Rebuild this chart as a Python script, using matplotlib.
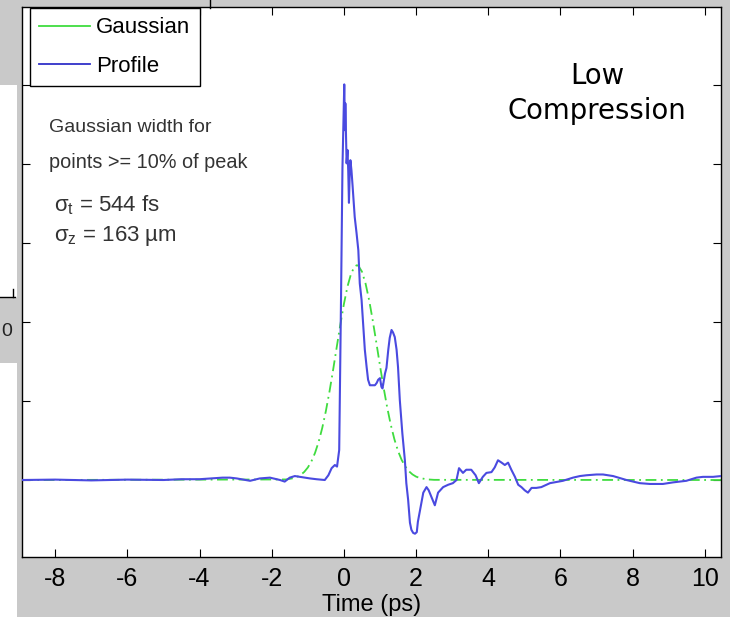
import matplotlib
matplotlib.use("Agg")
import matplotlib.pyplot as plt
from matplotlib.lines import Line2D
from matplotlib.patches import Rectangle

# ---------------- data ----------------
profile_t = [-8.92, -8.0, -7.0, -6.0, -5.0, -4.5, -4.0, -3.36, -3.16, -2.97, -2.6, -2.33,
             -2.05, -1.77, -1.64, -1.50, -1.36, -1.22, -0.94, -0.76, -0.53, -0.43, -0.34,
             -0.25, -0.19, -0.13, -0.08, -0.04, -0.01, 0.01, 0.03, 0.04, 0.06, 0.075, 0.10,
             0.12, 0.14, 0.16, 0.18, 0.21, 0.24, 0.30, 0.35, 0.40, 0.42, 0.44, 0.49, 0.52,
             0.55, 0.58, 0.63, 0.67, 0.72, 0.78, 0.86, 0.91, 0.95, 1.00, 1.04, 1.07, 1.14,
             1.18, 1.23, 1.27, 1.32, 1.36, 1.41, 1.46, 1.50, 1.55, 1.62, 1.69, 1.73, 1.78,
             1.83, 1.87, 1.92, 1.97, 2.02, 2.05, 2.11, 2.20, 2.29, 2.35, 2.43, 2.52, 2.61,
             2.75, 2.89, 3.02, 3.12, 3.19, 3.30, 3.39, 3.53, 3.65, 3.74, 3.85, 3.95, 4.09,
             4.18, 4.27, 4.37, 4.46, 4.55, 4.64, 4.74, 4.83, 4.92, 5.01, 5.10, 5.20, 5.33,
             5.47, 5.61, 5.71, 6.07, 6.35, 6.54, 6.72, 7.00, 7.18, 7.46, 7.83, 8.20, 8.48,
             8.84, 9.12, 9.49, 9.77, 9.95, 10.23, 10.45]
profile_v = [0.0, 0.005, -0.005, 0.005, 0.0, 0.01, 0.01, 0.03, 0.03, 0.02, -0.01, 0.02,
             0.03, 0.0, -0.02, 0.03, 0.05, 0.04, 0.02, 0.01, 0.0, 0.06, 0.15,
             0.19, 0.17, 0.38, 2.28, 3.95, 4.56, 5.01, 4.43, 4.77, 4.30, 4.01, 4.18,
             3.92, 3.51, 3.86, 4.05, 3.92, 3.73, 3.33, 3.13, 2.91, 2.70, 2.49, 2.28, 2.07,
             1.86, 1.65, 1.43, 1.27, 1.20, 1.20, 1.20, 1.23, 1.27, 1.29, 1.18, 1.16, 1.35,
             1.42, 1.65, 1.80, 1.90, 1.87, 1.81, 1.65, 1.43, 1.01, 0.59, 0.25, -0.04, -0.25,
             -0.54, -0.63, -0.67, -0.68, -0.66, -0.53, -0.38, -0.16, -0.09, -0.13, -0.22, -0.32, -0.16,
             -0.09, -0.06, -0.04, 0.0, 0.15, 0.09, 0.13, 0.13, 0.06, -0.04, 0.04, 0.09, 0.10,
             0.16, 0.25, 0.22, 0.19, 0.22, 0.13, 0.04, -0.06, -0.09, -0.13, -0.16, -0.10, -0.10,
             -0.09, -0.06, -0.04, -0.01, 0.03, 0.05, 0.06, 0.07, 0.07, 0.05, 0.0, -0.04, -0.05,
             -0.05, -0.03, -0.01, 0.03, 0.04, 0.04, 0.05]

gauss_t = [-8.92, -1.6, -1.4, -1.3, -1.2, -1.1, -1.0, -0.9, -0.8, -0.7, -0.6, -0.5, -0.4,
           -0.3, -0.2, -0.1, 0.0, 0.1, 0.2, 0.3, 0.36, 0.4, 0.5, 0.6, 0.7, 0.8, 0.9, 1.0,
           1.1, 1.2, 1.3, 1.4, 1.5, 1.6, 1.7, 1.8, 1.9, 2.0, 2.1, 2.3, 2.5, 10.45]
gauss_v = [0.0, 0.007, 0.023, 0.039, 0.064, 0.102, 0.158, 0.236, 0.343, 0.483, 0.659, 0.872, 1.118,
           1.391, 1.679, 1.964, 2.228, 2.451, 2.615, 2.705, 2.72, 2.713, 2.639, 2.489, 2.277, 2.019, 1.737, 1.448,
           1.171, 0.918, 0.698, 0.515, 0.368, 0.255, 0.172, 0.112, 0.071, 0.043, 0.026, 0.008, 0.002, 0.0]

x_ticks = [-8, -6, -4, -2, 0, 2, 4, 6, 8, 10]
y_ticks = [0, 1, 2, 3, 4, 5]
legend_labels = ["Gaussian", "Profile"]
note_lines = ["Gaussian width for", "points >= 10% of peak"]
sigma_lines = [r"$\mathregular{\sigma_t}$ = 544 fs", r"$\mathregular{\sigma_z}$ = 163 µm"]
title_lines = ["Low", "Compression"]

# ---------------- figure ----------------
W, H = 730, 617
plt.rcParams['mathtext.fontset'] = 'custom'
plt.rcParams['mathtext.rm'] = 'Liberation Sans'
fig = plt.figure(figsize=(W / 100, H / 100), dpi=100, facecolor='#c9c9c9')

def fx(px):
    return px / W

def fy(py):
    return 1 - py / H

# stray pieces of neighbouring panels
fig.patches.append(Rectangle((0, 0), fx(17), fy(85), transform=fig.transFigure,
                             facecolor='white', edgecolor='none', zorder=0))
fig.patches.append(Rectangle((0, fy(363)), fx(20), fy(298) - fy(363), transform=fig.transFigure,
                             facecolor='#c9c9c9', edgecolor='none', zorder=0))
fig.lines.append(Line2D([0, fx(15)], [fy(297), fy(297)], transform=fig.transFigure,
                        color='black', lw=1))
fig.lines.append(Line2D([fx(13), fx(13)], [fy(297), fy(289)], transform=fig.transFigure,
                        color='black', lw=1))
fig.lines.append(Line2D([fx(210), fx(210)], [fy(0), fy(8)], transform=fig.transFigure,
                        color='black', lw=1))
fig.text(fx(1), fy(331), "0", ha='left', va='center', fontsize=14,
         family=['Liberation Sans Narrow', 'Liberation Sans'], color='#222222')

ax = fig.add_axes([fx(22), fy(557), fx(721) - fx(22), fy(7) - fy(557)])
ax.set_facecolor('white')

ax.plot(gauss_t, gauss_v, color='#3fdc3f', lw=1.3, dashes=(6, 2.5, 1, 2.5), zorder=2)
ax.plot(profile_t, profile_v, color='#4a4ae0', lw=1.5, zorder=3)

ax.set_xlim(-8.92, 10.45)
ax.set_ylim(-0.975, 5.99)
ax.set_xticks(x_ticks)
ax.set_xticklabels([str(v) for v in x_ticks])
ax.set_yticks(y_ticks)
ax.tick_params(axis='both', direction='in', length=6, width=0.8, top=True, right=True,
               labelleft=False, color='black')
ax.tick_params(axis='x', pad=7, labelsize=18)
for lab in ax.get_xticklabels():
    lab.set_family(['Liberation Sans Narrow', 'Liberation Sans', 'DejaVu Sans'])
for s in ax.spines.values():
    s.set_linewidth(1.0)
    s.set_color('black')
ax.set_xlabel("Time (ps)", fontsize=17, labelpad=2,
              family=['Liberation Sans Narrow', 'Liberation Sans', 'DejaVu Sans'])

handles = [Line2D([], [], color='#3fdc3f', lw=1.3), Line2D([], [], color='#3030c8', lw=1.3)]
leg = ax.legend(handles, legend_labels, loc='upper left',
                bbox_to_anchor=(fx(30), fy(8)), bbox_transform=fig.transFigure,
                borderaxespad=0, frameon=True, fancybox=False,
                handlelength=2.3, handletextpad=0.25, borderpad=0.42, labelspacing=0.8,
                prop={'family': 'Liberation Sans', 'size': 16})
leg.get_frame().set_edgecolor('black')
leg.get_frame().set_linewidth(1.0)
leg.get_frame().set_alpha(1)

txt_font = ['Liberation Sans', 'DejaVu Sans']
fig.text(fx(49), fy(128), note_lines[0], ha='left', va='center', fontsize=14,
         family=txt_font, color='#333333')
fig.text(fx(49), fy(162), note_lines[1], ha='left', va='center', fontsize=14.3,
         family=txt_font, color='#333333')
fig.text(fx(54), fy(205), sigma_lines[0], ha='left', va='center', fontsize=16,
         family=txt_font, color='#333333')
fig.text(fx(54), fy(236), sigma_lines[1], ha='left', va='center', fontsize=16,
         family=txt_font, color='#333333')

fig.text(fx(597), fy(76), title_lines[0], ha='center', va='center', fontsize=19.8,
         family=['DejaVu Sans'], color='black')
fig.text(fx(597), fy(111), title_lines[1], ha='center', va='center', fontsize=19.8,
         family=['DejaVu Sans'], color='black')

fig.savefig("out.png", dpi=100, facecolor=fig.get_facecolor())
